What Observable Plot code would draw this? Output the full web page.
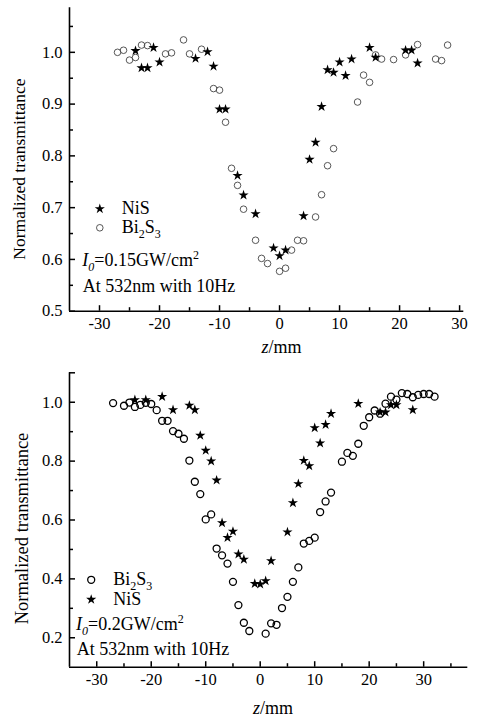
<!DOCTYPE html>
<html><head><meta charset="utf-8">
<script src="https://cdn.jsdelivr.net/npm/d3@7"></script>
<script src="https://cdn.jsdelivr.net/npm/@observablehq/plot@0.6"></script>
<style>
html,body{margin:0;padding:0;background:#fff;}
#chart svg{display:block;}
#chart svg text{font-family:'Liberation Serif','Times New Roman',serif;}
</style></head><body><div id="chart"></div>
<script>
// ---------- data: top panel (I0 = 0.15 GW/cm2) ----------
const topNiSZ = [-24,-23,-22,-21,-20,-14,-12,-11,-10,-9,-7,-6,-4,-1,0,1,4,5,6,7,8,9,10,11,12,15,16,21,22,23];
const topNiST = [1.003,0.970,0.970,1.009,0.981,0.988,1.001,0.973,0.890,0.890,0.762,0.724,0.688,0.622,0.607,0.618,0.684,0.793,0.826,0.895,0.966,0.961,0.981,0.955,0.987,1.009,0.990,1.004,1.004,0.979];
const topBiZ = [-27,-26,-25,-24,-23,-22,-19,-18,-16,-15,-13,-11,-10,-9,-8,-7,-6,-4,-3,-2,0,1,2,3,4,6,7,8,9,13,14,15,16,17,19,21,23,26,27,28];
const topBiT = [1.000,1.004,0.985,0.990,1.014,1.013,0.997,0.999,1.024,0.997,1.006,0.930,0.927,0.865,0.776,0.743,0.697,0.637,0.602,0.592,0.577,0.583,0.618,0.637,0.636,0.682,0.725,0.781,0.814,0.904,0.956,0.942,0.995,0.987,0.986,0.995,1.015,0.987,0.984,1.014];

// ---------- data: bottom panel (I0 = 0.2 GW/cm2) ----------
const botBiZ = [-27,-25,-24,-23,-22,-21,-20,-19,-18,-17,-16,-15,-14,-13,-12,-11,-10,-9,-8,-7,-6,-5,-4,-3,-2,1,2,3,4,5,6,7,8,9,10,11,12,13,15,16,17,18,19,20,21,22,23,24,25,26,27,28,29,30,31,32];
const botBiT = [0.997,0.988,0.999,0.984,0.991,0.998,0.994,0.973,0.937,0.937,0.902,0.893,0.876,0.802,0.730,0.688,0.602,0.619,0.503,0.480,0.452,0.390,0.311,0.251,0.223,0.214,0.249,0.244,0.301,0.339,0.390,0.439,0.520,0.529,0.540,0.627,0.663,0.693,0.798,0.828,0.818,0.859,0.920,0.949,0.972,0.961,0.995,1.019,1.009,1.031,1.028,1.017,1.025,1.028,1.028,1.019];
const botNiSZ = [-23,-21,-18,-16,-13,-12,-11,-10,-9,-8,-7,-6,-5,-4,-3,-1,0,1,2,5,6,7,8,9,10,11,12,13,18,22,23,24,25,28];
const botNiST = [1.008,1.008,1.019,0.974,0.989,0.974,0.887,0.836,0.800,0.735,0.590,0.540,0.561,0.484,0.466,0.384,0.382,0.393,0.461,0.559,0.658,0.723,0.802,0.784,0.913,0.861,0.924,0.961,0.995,0.966,0.966,0.991,0.991,0.974];

// ---------- ticks ----------
const topXMajor = [-30,-20,-10,0,10,20,30];
const topXMinor = [-25,-15,-5,5,15,25];
const topYMajor = [0.5,0.6,0.7,0.8,0.9,1.0];
const topYMinor = [0.55,0.65,0.75,0.85,0.95,1.05];
const botXMajor = [-30,-20,-10,0,10,20,30];
const botXMinor = [-25,-15,-5,5,15,25,35];
const botYMajor = [0.2,0.4,0.6,0.8,1.0];
const botYMinor = [0.3,0.5,0.7,0.9];
const botYTop = [1.1];

// ---------- text ----------
const yTitle = "Normalized transmittance";
const nameNiS = "NiS";
const topIntensity = "0.15";
const botIntensity = "0.2";
const condition = "At 532nm with 10Hz";

const FONT = "'Liberation Serif','Times New Roman',serif";

function panel(o) {
  const idx = a => d3.range(a.length);
  const plot = Plot.plot({
    width: 479, height: o.height,
    marginLeft: o.ml, marginRight: o.mr, marginTop: o.mt, marginBottom: o.mb,
    style: {fontFamily: FONT, fontSize: "16.5px", color: "black", background: "white", overflow: "visible"},
    x: {domain: o.xDomain},
    y: {domain: o.yDomain},
    marks: [
      Plot.axisX({ticks: o.xMajor, tickSize: 5.5, dy: -5.5, strokeWidth: 1.5, tickFormat: () => "", label: null}),
      Plot.axisX({ticks: o.xMinor, tickSize: 3.5, dy: -3.5, strokeWidth: 1.5, tickFormat: () => "", label: null}),
      Plot.axisY({ticks: o.yMajor.concat(o.yExtra || []), tickSize: 6, dx: 6, strokeWidth: 1.5, tickFormat: () => "", label: null}),
      Plot.axisY({ticks: o.yMinor, tickSize: 4, dx: 4, strokeWidth: 1.5, tickFormat: () => "", label: null}),
      Plot.axisX({ticks: o.xMajor, tickSize: 0, tickPadding: 6, tickFormat: d => String(d), label: null, fontFamily: FONT, fontSize: 16.5}),
      Plot.axisY({ticks: o.yMajor, tickSize: 0, tickPadding: 7, tickFormat: d3.format(".1f"), label: null, fontFamily: FONT, fontSize: 16.5}),
      Plot.ruleX([o.xDomain[0]], {stroke: "black", strokeWidth: 1.6}),
      Plot.ruleY([o.yDomain[0]], {stroke: "black", strokeWidth: 1.6}),
      Plot.dot(idx(o.biZ), {x: i => o.biZ[i], y: i => o.biT[i], r: o.circR, stroke: o.circStroke, strokeWidth: o.circSW, fill: "none"}),
      Plot.dot(idx(o.nisZ), {x: i => o.nisZ[i], y: i => o.nisT[i], symbol: "star", r: 3.2, fill: "black", stroke: "none"}),
      Plot.dot([0], {frameAnchor: "top-left", dx: o.legStar[0] - o.ml, dy: o.legStar[1] - o.mt, symbol: "star", r: 3.2, fill: "black", stroke: "none"}),
      Plot.dot([0], {frameAnchor: "top-left", dx: o.legCirc[0] - o.ml, dy: o.legCirc[1] - o.mt, r: o.circR, stroke: o.circStroke, strokeWidth: o.circSW, fill: "none"})
    ]
  });
  const svg = d3.select(plot);
  const g = svg.append("g").attr("fill", "black").attr("text-anchor", "start");
  const txt = (x, y, size) => g.append("text").attr("x", x).attr("y", y)
    .attr("text-anchor", "start").style("font-family", FONT).style("font-size", size + "px");

  txt(o.legNiSText[0], o.legNiSText[1], 18).text(nameNiS);
  const bi = txt(o.legBiText[0], o.legBiText[1], 18);
  bi.append("tspan").text("Bi");
  bi.append("tspan").style("font-size", "12px").attr("dy", 5).text("2");
  bi.append("tspan").attr("dy", -5).text("S");
  bi.append("tspan").style("font-size", "12px").attr("dy", 5).text("3");

  const it = txt(o.intText[0], o.intText[1], 18);
  it.append("tspan").style("font-style", "italic").text("I");
  it.append("tspan").style("font-style", "italic").style("font-size", "12px").attr("dy", 5).text("0");
  it.append("tspan").attr("dy", -5).text("=" + o.intensity + "GW/cm");
  it.append("tspan").style("font-size", "12px").attr("dy", -7).text("2");

  txt(o.condText[0], o.condText[1], 18).text(condition);

  const xt = txt(o.xTitle[0], o.xTitle[1], 18).attr("text-anchor", "middle");
  xt.append("tspan").style("font-style", "italic").text("z");
  xt.append("tspan").text("/mm");

  txt(0, 0, o.yTitleSize).attr("text-anchor", "middle")
    .attr("transform", `translate(${o.yTitle[0]},${o.yTitle[1]}) rotate(-90)`)
    .text(yTitle);

  return plot;
}

const topPanel = panel({
  height: 360, ml: 69, mr: 15.7, mt: 7.3, mb: 49.3,
  xDomain: [-35, 30.7], yDomain: [0.5, 1.086],
  xMajor: topXMajor, xMinor: topXMinor, yMajor: topYMajor, yMinor: topYMinor,
  biZ: topBiZ, biT: topBiT, nisZ: topNiSZ, nisT: topNiST,
  circR: 3.3, circStroke: "#444", circSW: 0.9,
  legStar: [99.3, 208.3], legCirc: [99.3, 227.3],
  legNiSText: [121.7, 213.5], legBiText: [121.7, 232.5],
  intensity: topIntensity, intText: [82.3, 266], condText: [82.7, 291.7],
  xTitle: [281.6, 353], yTitle: [25, 169], yTitleSize: 17.5
});

const botPanel = panel({
  height: 358, ml: 69, mr: 11.7, mt: 12.3, mb: 51.3,
  xDomain: [-35, 38.1], yDomain: [0.1, 1.1],
  xMajor: botXMajor, xMinor: botXMinor, yMajor: botYMajor, yMinor: botYMinor, yExtra: botYTop,
  biZ: botBiZ, biT: botBiT, nisZ: botNiSZ, nisT: botNiST,
  circR: 3.5, circStroke: "black", circSW: 1.3,
  legStar: [90.7, 239], legCirc: [90.7, 219.3],
  legNiSText: [113.3, 245], legBiText: [113.3, 225],
  intensity: botIntensity, intText: [76, 270], condText: [76.7, 295],
  xTitle: [273, 354], yTitle: [28, 168.5], yTitleSize: 18.5
});

document.getElementById("chart").append(topPanel, botPanel);
</script></body></html>
